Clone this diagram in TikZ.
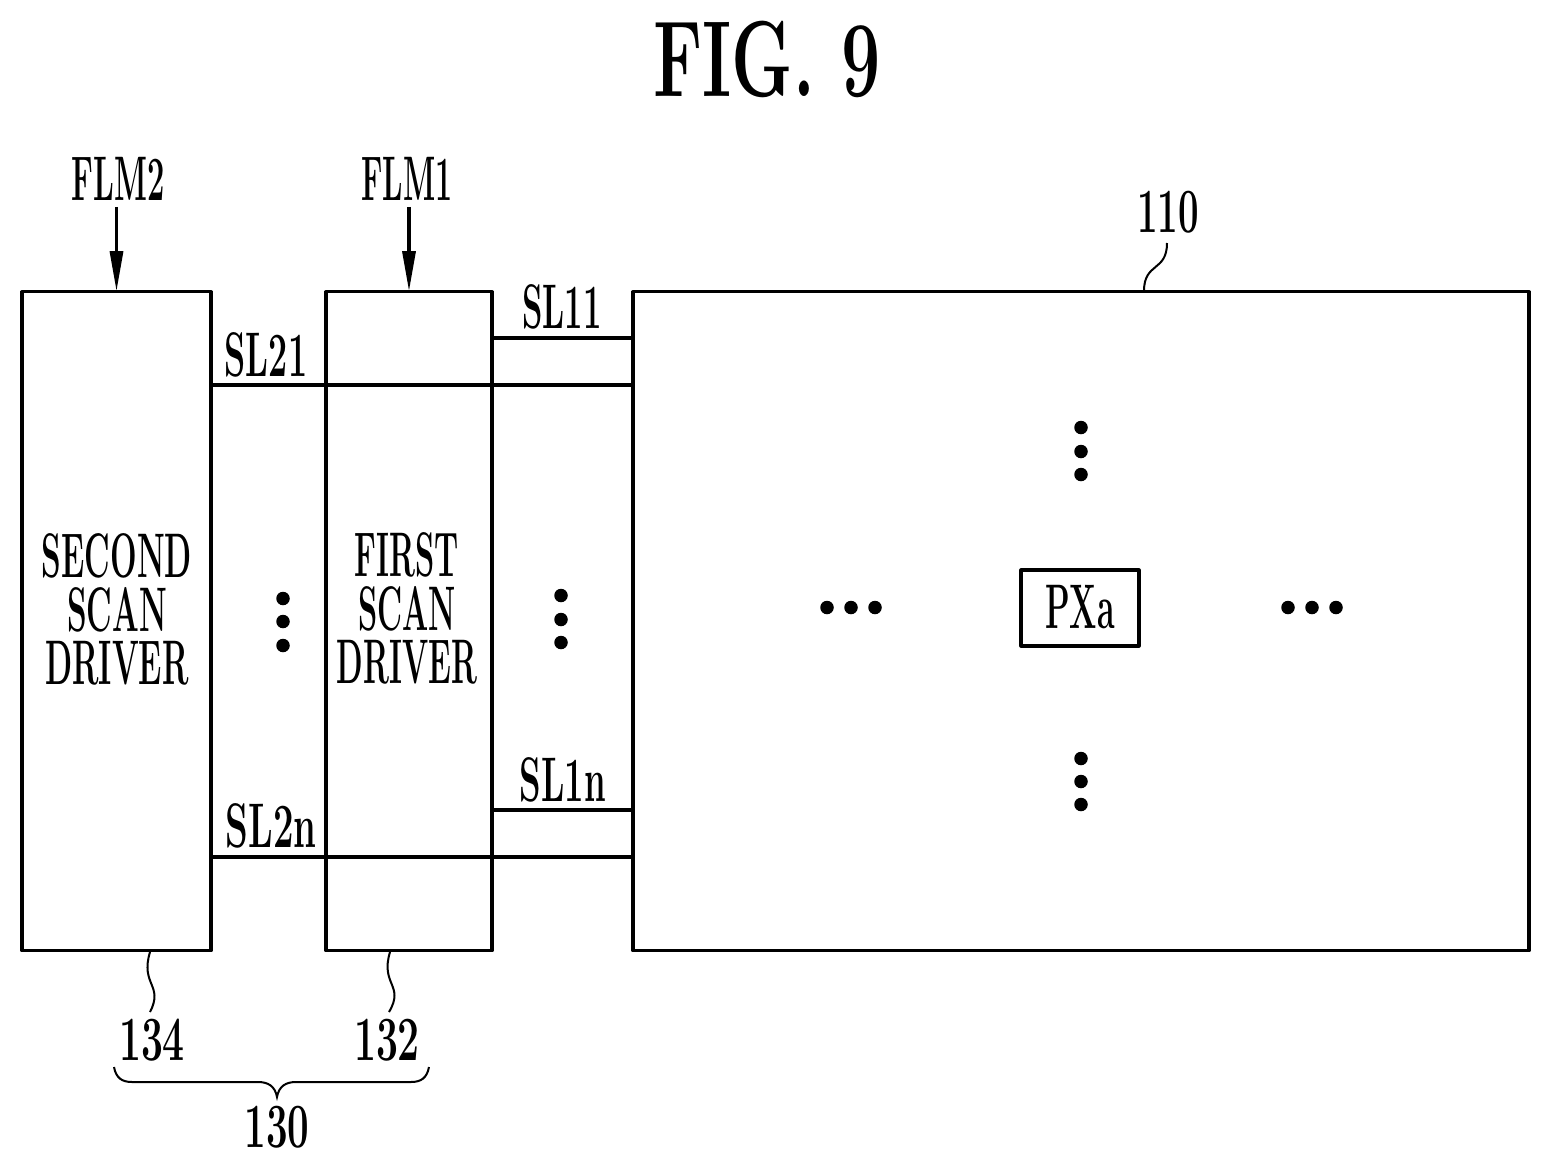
\documentclass[tikz,border=0pt]{standalone}
\usepackage{graphicx}
\usetikzlibrary{arrows.meta}
\newcommand{\sx}[2]{\scalebox{#1}[1]{#2}}
\tikzset{
  x=1pt,y=-1pt,
  box/.style={draw,line width=3.2pt,line join=round,minimum height=0pt,inner sep=0pt,anchor=north west},
  lbl/.style={inner sep=0pt,font=\fontsize{63}{53}\selectfont\bfseries},
  wire/.style={line width=3.2pt},
  lead/.style={line width=2pt},
  arrowline/.style={line width=3.2pt,-{Triangle[length=40pt,width=13pt]},shorten >=-1pt},
  pdot/.style={circle,fill=black,inner sep=0pt,minimum size=13.5pt}
}
\begin{document}
\begin{tikzpicture}
\useasboundingbox (0,0) rectangle (1551,1168);
% boxes
\node[box,minimum width=189pt,minimum height=659pt] (second) at (20.4,290.2) {};
\node[box,minimum width=166pt,minimum height=659pt] (first) at (324.4,290.2) {};
\node[box,minimum width=896pt,minimum height=659pt] (panel) at (631.4,290.2) {};
\node[box,minimum width=118pt,minimum height=76pt] (px) at (1019.4,568.4) {};
% title and labels
\node[lbl,font=\fontsize{108}{108}\selectfont\bfseries] (title) at (767,59) {\sx{.645}{FIG. 9}};
\node[lbl] (flmb) at (118,179) {\sx{.49}{FLM2}};
\node[lbl] (flma) at (407,179) {\sx{.48}{FLM1}};
\node[lbl] (n110) at (1168,212) {\sx{.58}{110}};
\node[lbl] (sla) at (562,307) {\sx{.52}{SL11}};
\node[lbl] (slb) at (266,355) {\sx{.54}{SL21}};
\node[lbl] (slc) at (563,780) {\sx{.55}{SL1n}};
\node[lbl] (sld) at (271,826) {\sx{.58}{SL2n}};
\node[lbl] (pxt) at (1080,607) {\sx{.51}{PXa}};
\node[lbl] (drvb) at (117,617) {\sx{.5}{\begin{tabular}{@{}c@{}}SECOND\\[-6pt]SCAN\\[-6pt]DRIVER\end{tabular}}};
\node[lbl] (drva) at (407,616) {\sx{.49}{\begin{tabular}{@{}c@{}}FIRST\\[-6pt]SCAN\\[-6pt]DRIVER\end{tabular}}};
\node[lbl] (n134) at (152,1040) {\sx{.62}{134}};
\node[lbl] (n132) at (387,1040) {\sx{.62}{132}};
\node[lbl] (n130) at (277,1127) {\sx{.61}{130}};
% arrows
\draw[arrowline] (flmb.south -| second.north) ++(0,6) -- (second.north);
\draw[arrowline] (flma.south -| first.north) ++(0,6) -- (first.north);
% scan lines
\coordinate (w1) at (0,338); \coordinate (w2) at (0,385);
\coordinate (w3) at (0,810); \coordinate (w4) at (0,857);
\draw[wire] (first.east |- w1) -- (panel.west |- w1);
\draw[wire] (second.east |- w2) -- (panel.west |- w2);
\draw[wire] (first.east |- w3) -- (panel.west |- w3);
\draw[wire] (second.east |- w4) -- (panel.west |- w4);
% leaders
\coordinate (a1) at (1144,291);
\coordinate (a2) at (1167,243);
\draw[lead] (a1) .. controls (1144,262) and (1167,272) .. (a2);
\coordinate (b1) at (150,952);
\coordinate (b2) at (150,1012);
\draw[lead] (b1) .. controls (140,985) and (164,985) .. (b2);
\coordinate (c1) at (390,952);
\coordinate (c2) at (389,1012);
\draw[lead] (c1) .. controls (380,985) and (405,985) .. (c2);
% brace
\coordinate (br1) at (114,1067);
\coordinate (br2) at (429,1067);
\coordinate (brt) at (277,1097);
\draw[lead] (br1) .. controls (116,1078) and (122,1082) .. (132,1082) -- (258,1082)
  .. controls (268,1082) and (275,1086) .. (brt)
  .. controls (279,1086) and (286,1082) .. (296,1082) -- (411,1082)
  .. controls (421,1082) and (427,1078) .. (br2);
% dots
\foreach \i/\a/\b in {a/283/598.5,b/283/621.5,c/283/645.5,d/561/595.5,e/561/619.5,f/561/642.5,
  g/1081/427.5,h/1081/451.5,i/1081/474.5,j/1081/758.5,k/1081/781.5,l/1081/804.5,
  m/827/607.5,n/851/607.5,o/875/607.5,p/1288/607.5,q/1312/607.5,r/1336/607.5}
  \node[pdot] (dot\i) at (\a,\b) {};
\end{tikzpicture}
\end{document}
